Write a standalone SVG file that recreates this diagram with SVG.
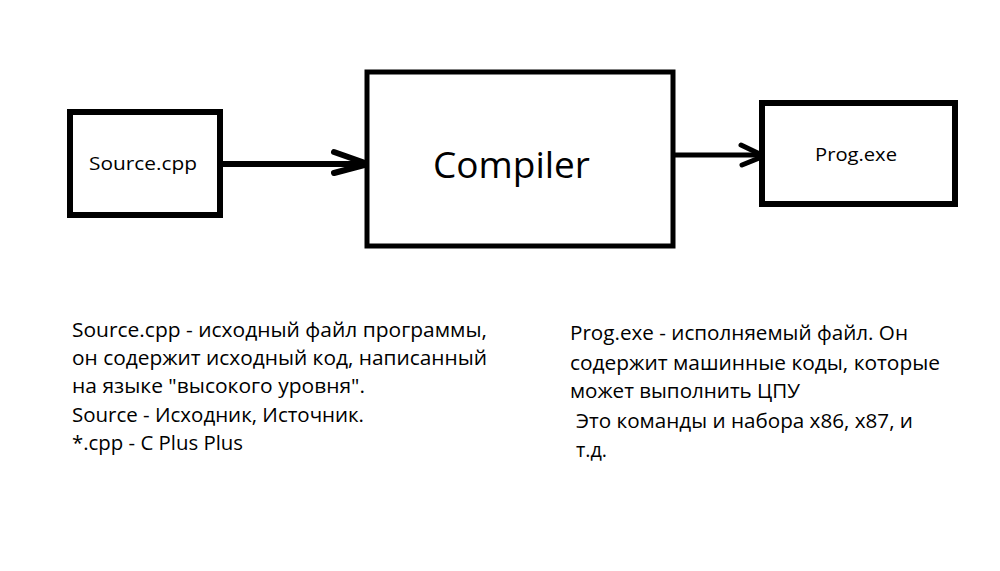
<svg xmlns="http://www.w3.org/2000/svg" width="1000" height="571" viewBox="0 0 1000 571">
<style>
.box{fill:#fff;stroke:#000;stroke-width:6}
.con{fill:none;stroke:#000;stroke-width:6;stroke-linecap:butt;stroke-linejoin:miter}
.head{fill:none;stroke:#000;stroke-width:6;stroke-linecap:round;stroke-linejoin:miter}
text{font-family:"Open Sans","Noto Sans","DejaVu Sans",sans-serif;fill:#000}
.lbl{font-size:19px}
.big{font-size:36px}
.note{font-size:20.5px}
</style>
<rect width="1000" height="571" fill="#fff"/>
<g id="connectors">
<path class="con" d="M223 164 H368"/>
<path class="head" d="M334 152 L368 164 L334 173"/>
<path class="con" d="M675 155 H764" style="stroke-width:5"/>
<path class="head" d="M741 145 L764 156 L742 165" style="stroke-width:5"/>
</g>
<g id="source">
<rect class="box" x="70" y="112" width="150" height="103"/>
<text class="lbl" x="89" y="170" textLength="108" lengthAdjust="spacingAndGlyphs">Source.cpp</text>
</g>
<g id="compiler">
<rect class="box" x="367" y="72" width="306" height="174" style="stroke-width:5"/>
<text class="big" x="433" y="178" textLength="157" lengthAdjust="spacingAndGlyphs">Compiler</text>
</g>
<g id="prog">
<rect class="box" x="762" y="103" width="193" height="101"/>
<text class="lbl" x="815" y="161" textLength="82" lengthAdjust="spacingAndGlyphs">Prog.exe</text>
</g>
<g id="note-left">
<text class="note" x="72" y="337" textLength="415" lengthAdjust="spacingAndGlyphs">Source.cpp - исходный файл программы,</text>
<text class="note" x="72" y="365" textLength="415" lengthAdjust="spacingAndGlyphs">он содержит исходный код, написанный</text>
<text class="note" x="72" y="393" textLength="293" lengthAdjust="spacingAndGlyphs">на языке "высокого уровня".</text>
<text class="note" x="72" y="422" textLength="292" lengthAdjust="spacingAndGlyphs">Source - Исходник, Источник.</text>
<text class="note" x="72" y="450" textLength="171" lengthAdjust="spacingAndGlyphs">*.cpp - C Plus Plus</text>
</g>
<g id="note-right">
<text class="note" x="570" y="340" textLength="338" lengthAdjust="spacingAndGlyphs">Prog.exe - исполняемый файл. Он</text>
<text class="note" x="570" y="370" textLength="370" lengthAdjust="spacingAndGlyphs">содержит машинные коды, которые</text>
<text class="note" x="570" y="398" textLength="230" lengthAdjust="spacingAndGlyphs">может выполнить ЦПУ</text>
<text class="note" x="576" y="428" textLength="337" lengthAdjust="spacingAndGlyphs">Это команды и набора x86, x87, и</text>
<text class="note" x="576" y="457" textLength="31" lengthAdjust="spacingAndGlyphs">т.д.</text>
</g>
</svg>
